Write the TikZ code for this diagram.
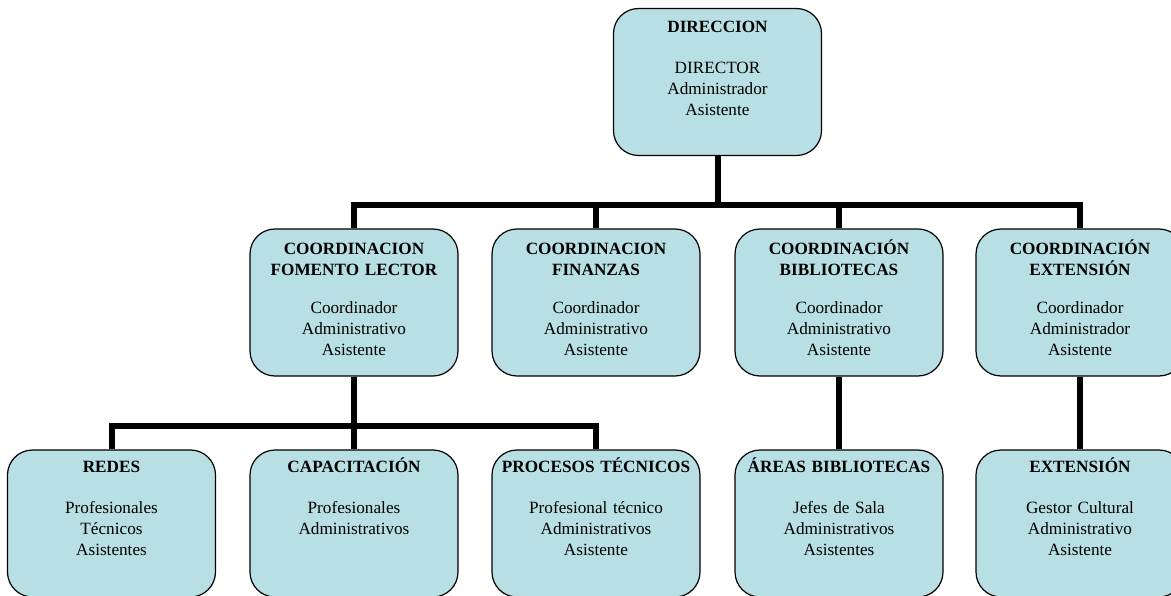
\documentclass[tikz,border=0pt]{standalone}
\usepackage{fontspec}
\setmainfont{Liberation Serif}

\definecolor{cajafondo}{RGB}{184,223,227}

\tikzset{
  caja/.style={draw, line width=1.2pt, rounded corners=25pt, fill=cajafondo,
               minimum width=208pt, minimum height=147pt, inner sep=0pt},
  texto/.style={anchor=base, inner sep=0pt, text width=206pt, align=center,
                font=\fontsize{17.2}{21}\selectfont},
  conector/.style={line width=6pt, line join=miter},
}

\begin{document}
\begin{tikzpicture}[x=1pt, y=-1pt]

    \useasboundingbox (0,0) rectangle (1171,596);

    % cajas
    \node[caja] (dir) at (717.5, 82) {};
    \node[caja] (fom) at (354, 302.5) {};
    \node[caja] (fin) at (596, 302.5) {};
    \node[caja] (bib) at (839, 302.5) {};
    \node[caja] (ext) at (1080, 302.5) {};
    \node[caja] (red) at (111.5, 523.5) {};
    \node[caja] (cap) at (354, 523.5) {};
    \node[caja] (pro) at (596, 523.5) {};
    \node[caja] (are) at (839, 523.5) {};
    \node[caja] (exs) at (1080, 523.5) {};

    % textos
    \node[texto] (dir-t) at ([yshift=-25pt]dir.north) {\textbf{DIRECCION}\\[20pt]DIRECTOR\\Administrador\\Asistente};
    \node[texto] (fom-t) at ([yshift=-26pt]fom.north) {\textbf{COORDINACION\\FOMENTO LECTOR}\\[17pt]Coordinador\\Administrativo\\Asistente};
    \node[texto] (fin-t) at ([yshift=-26pt]fin.north) {\textbf{COORDINACION\\FINANZAS}\\[17pt]Coordinador\\Administrativo\\Asistente};
    \node[texto] (bib-t) at ([yshift=-26pt]bib.north) {\textbf{COORDINACIÓN\\BIBLIOTECAS}\\[17pt]Coordinador\\Administrativo\\Asistente};
    \node[texto] (ext-t) at ([yshift=-26pt]ext.north) {\textbf{COORDINACIÓN\\EXTENSIÓN}\\[17pt]Coordinador\\Administrador\\Asistente};
    \node[texto] (red-t) at ([yshift=-23pt]red.north) {\textbf{REDES}\\[20pt]Profesionales\\Técnicos\\Asistentes};
    \node[texto] (cap-t) at ([yshift=-23pt]cap.north) {\textbf{CAPACITACIÓN}\\[20pt]Profesionales\\Administrativos};
    \node[texto] (pro-t) at ([yshift=-23pt]pro.north) {\textbf{PROCESOS TÉCNICOS}\\[20pt]Profesional técnico\\Administrativos\\Asistente};
    \node[texto] (are-t) at ([yshift=-23pt]are.north) {\textbf{ÁREAS BIBLIOTECAS}\\[20pt]Jefes de Sala\\Administrativos\\Asistentes};
    \node[texto] (exs-t) at ([yshift=-23pt]exs.north) {\textbf{EXTENSIÓN}\\[20pt]Gestor Cultural\\Administrativo\\Asistente};

    % lineas de mando
    \coordinate (barra1) at (0, 205);
    \coordinate (barra2) at (0, 426);

    \draw [conector] (dir.south) -- (dir.south |- barra1);
    \draw [conector] (fom.north) -- (fom.north |- barra1) -- (ext.north |- barra1) -- (ext.north);
    \draw [conector] (fin.north) -- (fin.north |- barra1);
    \draw [conector] (bib.north) -- (bib.north |- barra1);

    \draw [conector] (fom.south) -- (cap.north);
    \draw [conector] (red.north) -- (red.north |- barra2) -- (pro.north |- barra2) -- (pro.north);
    \draw [conector] (bib.south) -- (are.north);
    \draw [conector] (ext.south) -- (exs.north);

\end{tikzpicture}
\end{document}
